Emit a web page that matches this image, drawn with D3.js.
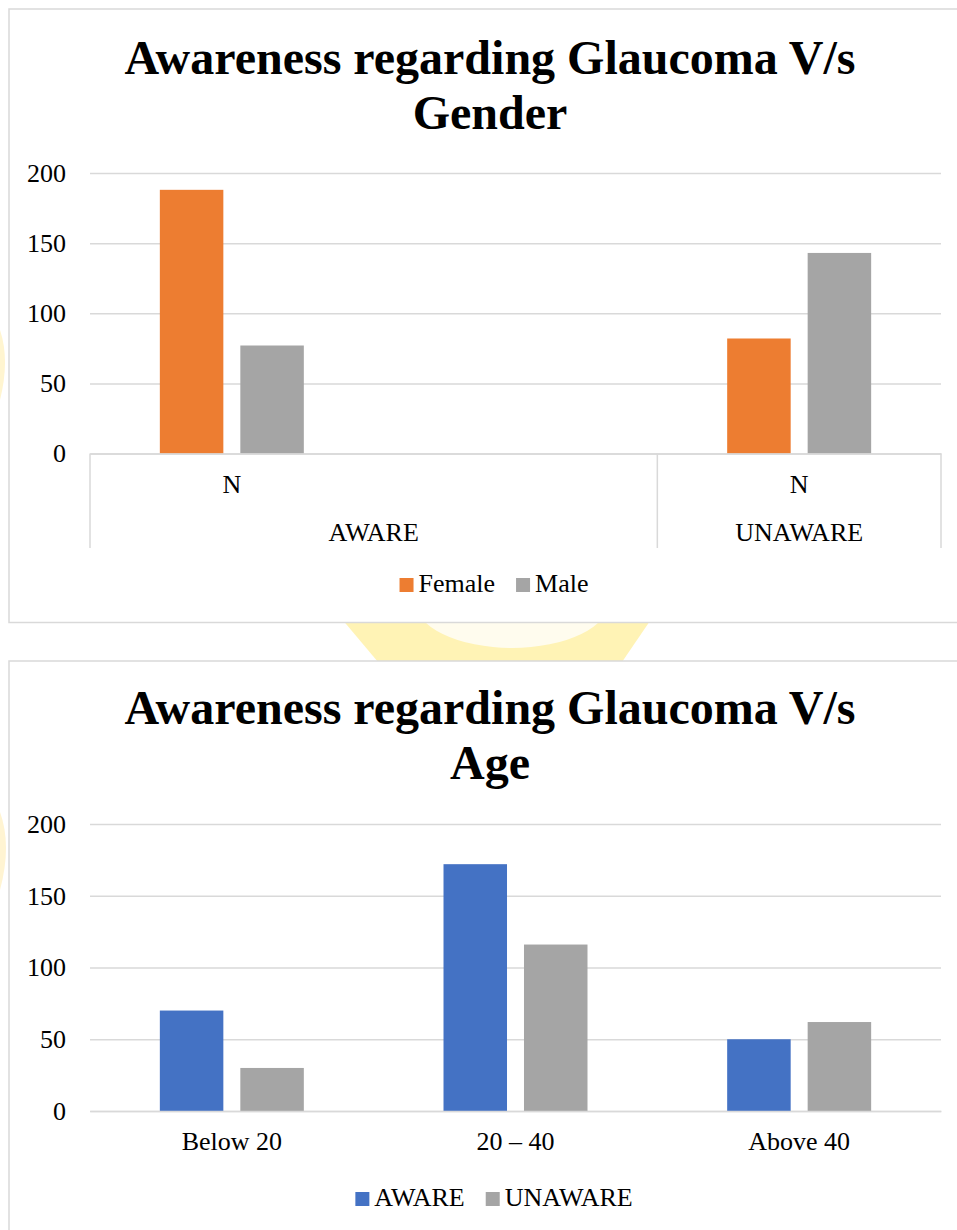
<!DOCTYPE html>
<html>
<head>
<meta charset="utf-8">
<script src="https://cdn.jsdelivr.net/npm/d3@7"></script>
<style>
  html, body { margin: 0; padding: 0; background: #ffffff; }
  svg { display: block; }
  text { font-family: "Liberation Serif", "Times New Roman", serif; fill: #000; }
</style>
</head>
<body>
<svg id="page" width="957" height="1230"></svg>
<script>
// ---- data ----
const yTicks = [0, 50, 100, 150, 200];

// Gender chart: two-level category axis (sub label / group)
const genderSubLabels = ["N", "", "N"];
const genderGroupLabels = ["AWARE", "AWARE", "UNAWARE"];
const genderSeries = ["Female", "Male"];
const femaleCounts = [188, null, 82];
const maleCounts = [77, null, 143];

// Age chart
const ageCategories = ["Below 20", "20 \u2013 40", "Above 40"];
const ageSeries = ["AWARE", "UNAWARE"];
const awareCounts = [70, 172, 50];
const unawareCounts = [30, 116, 62];

// ---- styling ----
const FONT = 26;
const GRID = "#d9d9d9";
const colours = { Female: "#ED7D31", Male: "#A5A5A5", AWARE: "#4472C4", UNAWARE: "#A5A5A5" };

const svg = d3.select("#page");

// faint background logo peeking out around the chart frames
const wm = svg.append("g");
wm.append("path")
  .attr("d", "M341,618 L652,618 L622,662 L378,662 Z")
  .attr("fill", "#fff3b5");
wm.append("ellipse")
  .attr("cx", 512).attr("cy", 600).attr("rx", 98).attr("ry", 48)
  .attr("fill", "#fffcee");
wm.append("path")
  .attr("d", "M0,330 Q10,360 0,400 Z")
  .attr("fill", "#fff5d0");
wm.append("path")
  .attr("d", "M0,812 Q12,845 0,890 Z")
  .attr("fill", "#fff4d2");

function drawFrame(y0, h) {
  svg.append("rect")
    .attr("x", 9).attr("y", y0).attr("width", 952).attr("height", h)
    .attr("fill", "#ffffff").attr("stroke", GRID).attr("stroke-width", 1.5);
}

function drawTitle(lines, baseline) {
  const t = svg.append("text")
    .attr("text-anchor", "middle")
    .attr("font-size", 48).attr("font-weight", "bold");
  lines.forEach((s, i) => {
    t.append("tspan").attr("x", 490).attr("y", baseline + i * 55).text(s);
  });
}

function drawLegend(series, cy) {
  const g = svg.append("g");
  let x = 0;
  series.forEach((name, i) => {
    const item = g.append("g").attr("transform", `translate(${x},0)`);
    item.append("rect").attr("x", 0).attr("y", cy - 14).attr("width", 14).attr("height", 14)
      .attr("fill", colours[name]);
    const t = item.append("text").attr("x", 19).attr("y", cy).attr("font-size", FONT).text(name);
    x += 19 + t.node().getComputedTextLength() + 21;
  });
  const total = x - 21;
  g.attr("transform", `translate(${494 - total / 2},0)`);
}

function drawBars(cfg) {
  const { left, right, top, bottom, categories, series, values } = cfg;
  const x0 = d3.scaleBand().domain(categories).range([left, right])
    .paddingInner(0.4924).paddingOuter(0.2462);
  const x1 = d3.scaleBand().domain(series).range([0, x0.bandwidth()]).paddingInner(0.211);
  const y = d3.scaleLinear().domain([0, 200]).range([bottom, top]);

  // value axis with gridlines
  const ax = svg.append("g").attr("transform", `translate(${left},0)`)
    .call(d3.axisLeft(y).tickValues(yTicks).tickSize(-(right - left)).tickPadding(24));
  ax.select(".domain").remove();
  ax.selectAll(".tick line").attr("stroke", GRID).attr("stroke-width", 1.5);
  ax.selectAll(".tick text").attr("font-size", FONT).attr("font-family", "Liberation Serif").attr("fill", "#000");

  const rows = categories.map((c, i) => ({ c, vals: series.map((s, k) => ({ s, v: values[k][i] })) }));
  svg.append("g").selectAll("g").data(rows).join("g")
    .attr("transform", d => `translate(${x0(d.c)},0)`)
    .selectAll("rect").data(d => d.vals.filter(e => e.v != null)).join("rect")
      .attr("x", d => x1(d.s))
      .attr("width", x1.bandwidth())
      .attr("y", d => y(d.v))
      .attr("height", d => y(0) - y(d.v))
      .attr("fill", d => colours[d.s]);
  return { x0, y };
}

// ---------- chart 1: gender ----------
drawFrame(9, 613.5);
drawTitle(["Awareness regarding Glaucoma V/s", "Gender"], 74);
{
  const cats = [0, 1, 2];
  const { x0, y } = drawBars({
    left: 90, right: 941, top: 173, bottom: 453.5,
    categories: cats, series: genderSeries, values: [femaleCounts, maleCounts]
  });
  const axisY = y(0);
  const step = x0.step();
  const start = 90;

  // first level labels
  const xa = svg.append("g").attr("transform", `translate(0,${axisY})`)
    .call(d3.axisBottom(x0).tickSize(0).tickFormat(i => genderSubLabels[i]));
  xa.select(".domain").attr("stroke", GRID).attr("stroke-width", 1.5);
  xa.selectAll(".tick text").attr("font-size", FONT).attr("font-family", "Liberation Serif")
    .attr("fill", "#000").attr("y", 0).attr("dy", 0)
    .attr("transform", `translate(0,${493 - axisY})`);

  // second level: group spans with dividers
  const groups = [];
  genderGroupLabels.forEach((g, i) => {
    const last = groups[groups.length - 1];
    if (last && last.name === g) last.end = i; else groups.push({ name: g, start: i, end: i });
  });
  const bounds = [start].concat(groups.map(g => start + (g.end + 1) * step));
  svg.append("g").selectAll("line").data(bounds).join("line")
    .attr("x1", d => d).attr("x2", d => d)
    .attr("y1", axisY).attr("y2", 548)
    .attr("stroke", GRID).attr("stroke-width", 1.5);
  svg.append("g").selectAll("text").data(groups).join("text")
    .attr("x", g => start + (g.start + g.end + 1) * step / 2)
    .attr("y", 541)
    .attr("text-anchor", "middle").attr("font-size", FONT)
    .text(g => g.name);

  drawLegend(genderSeries, 592);
}

// ---------- chart 2: age ----------
drawFrame(661, 600);
drawTitle(["Awareness regarding Glaucoma V/s", "Age"], 724);
{
  const { x0, y } = drawBars({
    left: 90, right: 941, top: 824, bottom: 1111,
    categories: ageCategories, series: ageSeries, values: [awareCounts, unawareCounts]
  });
  const axisY = y(0);
  const xa = svg.append("g").attr("transform", `translate(0,${axisY})`)
    .call(d3.axisBottom(x0).tickSize(0));
  xa.select(".domain").attr("stroke", GRID).attr("stroke-width", 1.5);
  xa.selectAll(".tick text").attr("font-size", FONT).attr("font-family", "Liberation Serif")
    .attr("fill", "#000").attr("y", 0).attr("dy", 0)
    .attr("transform", `translate(0,${1150 - axisY})`);

  drawLegend(ageSeries, 1206);
}
</script>
</body>
</html>
